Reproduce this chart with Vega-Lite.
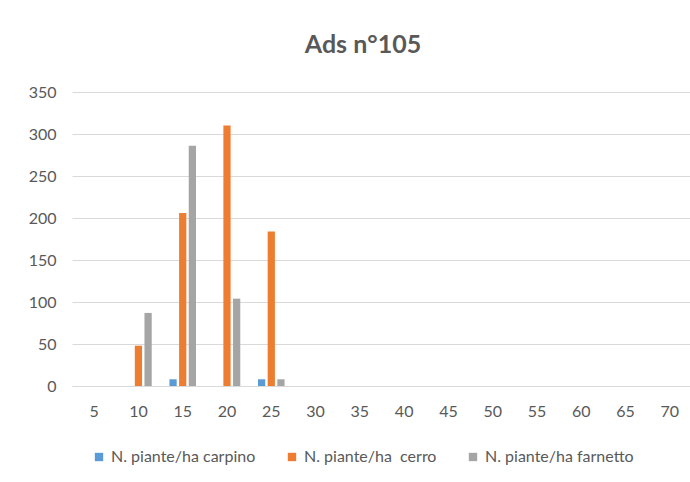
{
  "$schema": "https://vega.github.io/schema/vega-lite/v6.json",
  "autosize": "none",
  "width": 620,
  "height": 294,
  "padding": {"left": 72, "top": 92, "right": 0, "bottom": 96},
  "background": "white",
  "title": {
    "text": "Ads n°105",
    "font": "Lato",
    "fontSize": 25,
    "fontWeight": "bold",
    "color": "#595959",
    "anchor": "middle",
    "dx": -19,
    "baseline": "alphabetic",
    "offset": 6
  },
  "data": {
    "values": [
      {"diametro": "10", "serie": "N. piante/ha\u00a0 cerro", "valore": 48},
      {"diametro": "10", "serie": "N. piante/ha farnetto", "valore": 87},
      {"diametro": "15", "serie": "N. piante/ha carpino", "valore": 8},
      {"diametro": "15", "serie": "N. piante/ha\u00a0 cerro", "valore": 206},
      {"diametro": "15", "serie": "N. piante/ha farnetto", "valore": 286},
      {"diametro": "20", "serie": "N. piante/ha\u00a0 cerro", "valore": 310},
      {"diametro": "20", "serie": "N. piante/ha farnetto", "valore": 104},
      {"diametro": "25", "serie": "N. piante/ha carpino", "valore": 8},
      {"diametro": "25", "serie": "N. piante/ha\u00a0 cerro", "valore": 184},
      {"diametro": "25", "serie": "N. piante/ha farnetto", "valore": 8}
    ]
  },
  "mark": {"type": "bar"},
  "encoding": {
    "x": {
      "field": "diametro",
      "type": "ordinal",
      "scale": {
        "domain": ["5","10","15","20","25","30","35","40","45","50","55","60","65","70"],
        "paddingInner": 0.4,
        "paddingOuter": 0.2
      },
      "axis": {
        "title": null,
        "labelAngle": 0,
        "ticks": false,
        "tickSize": 0,
        "labelPadding": 17,
        "labelFont": "Lato",
        "labelFontSize": 16,
        "labelColor": "#595959",
        "domainColor": "#d9d9d9",
        "grid": false
      }
    },
    "xOffset": {
      "field": "serie",
      "type": "nominal",
      "scale": {
        "domain": ["N. piante/ha carpino", "N. piante/ha\u00a0 cerro", "N. piante/ha farnetto"],
        "paddingInner": 0.25,
        "paddingOuter": 0
      }
    },
    "y": {
      "field": "valore",
      "type": "quantitative",
      "scale": {"domain": [0, 350], "nice": false},
      "axis": {
        "title": null,
        "values": [0, 50, 100, 150, 200, 250, 300, 350],
        "domain": false,
        "ticks": false,
        "tickSize": 0,
        "labelPadding": 16,
        "labelFont": "Lato",
        "labelFontSize": 16,
        "labelColor": "#595959",
        "gridColor": "#d9d9d9",
        "gridWidth": 1
      }
    },
    "color": {
      "field": "serie",
      "type": "nominal",
      "scale": {
        "domain": ["N. piante/ha carpino", "N. piante/ha\u00a0 cerro", "N. piante/ha farnetto"],
        "range": ["#5B9BD5", "#ED7D31", "#A5A5A5"]
      },
      "legend": {
        "title": null,
        "orient": "none",
        "direction": "horizontal",
        "legendX": 19,
        "legendY": 357,
        "symbolType": "square",
        "symbolSize": 70,
        "symbolStrokeWidth": 0,
        "labelOffset": 4,
        "columnPadding": 28,
        "labelFont": "Lato",
        "labelFontSize": 16,
        "labelColor": "#595959",
        "labelLimit": 300
      }
    }
  },
  "config": {
    "view": {"stroke": null}
  }
}
